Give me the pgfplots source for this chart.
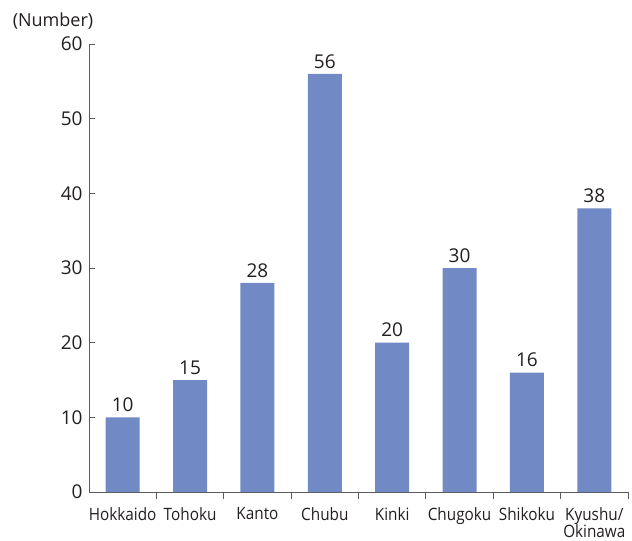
\documentclass[border=0pt]{standalone}
\usepackage{fontspec}
\setmainfont{Open Sans}
\newfontfamily\condfont[FakeStretch=0.9]{Open Sans}
\usepackage{pgfplots}
\pgfplotsset{compat=1.18}
\definecolor{barblue}{RGB}{113,137,196}
\definecolor{axisgray}{RGB}{90,90,90}
\definecolor{txt}{RGB}{35,31,32}
\begin{document}
\begin{tikzpicture}
\begin{axis}[
  scale only axis,
  width=539bp, height=448bp,
  xmin=-0.5, xmax=7.5,
  ymin=0, ymax=60,
  axis x line=bottom, axis y line=left,
  axis line style={-, axisgray, line width=0.9pt},
  tick align=inside,
  xtick={0,...,7},
  xticklabels={Hokkaido,Tohoku,Kanto,Chubu,Kinki,Chugoku,Shikoku,{Kyushu/\\[-3bp]Okinawa}},
  major x tick style={draw=none},
  minor xtick={0.5,1.5,...,7.5},
  minor tick length=7bp,
  minor x tick style={axisgray, line width=0.9pt},
  xticklabel style={font=\condfont\fontsize{17bp}{20bp}\selectfont, text=txt, align=center, anchor=north, inner sep=0pt, yshift=-9bp},
  ytick={0,10,...,60},
  major tick length=6bp,
  ytick style={axisgray, line width=0.9pt},
  yticklabel style={font=\fontsize{19bp}{22bp}\selectfont, text=txt, xshift=-3bp},
  /pgf/number format/assume math mode=true,
  ybar, bar width=34bp,
  nodes near coords,
  nodes near coords style={font=\fontsize{19bp}{22bp}\selectfont, text=txt, anchor=south, yshift=2bp},
  clip=false,
]
\addplot[fill=barblue, draw=none] coordinates {(0,10) (1,15) (2,28) (3,56) (4,20) (5,30) (6,16) (7,38)};
\coordinate (sw) at (rel axis cs:0,0);
\coordinate (ne) at (rel axis cs:1,1);
\coordinate (nw) at (rel axis cs:0,1);
\end{axis}
\node[font=\fontsize{18bp}{20bp}\selectfont, text=txt, anchor=center] at ([xshift=-36bp, yshift=23bp]nw) {(Number)};
\pgfresetboundingbox
\path ([xshift=-89bp, yshift=-48bp]sw) rectangle ([xshift=4bp, yshift=44bp]ne);
\end{tikzpicture}
\end{document}
